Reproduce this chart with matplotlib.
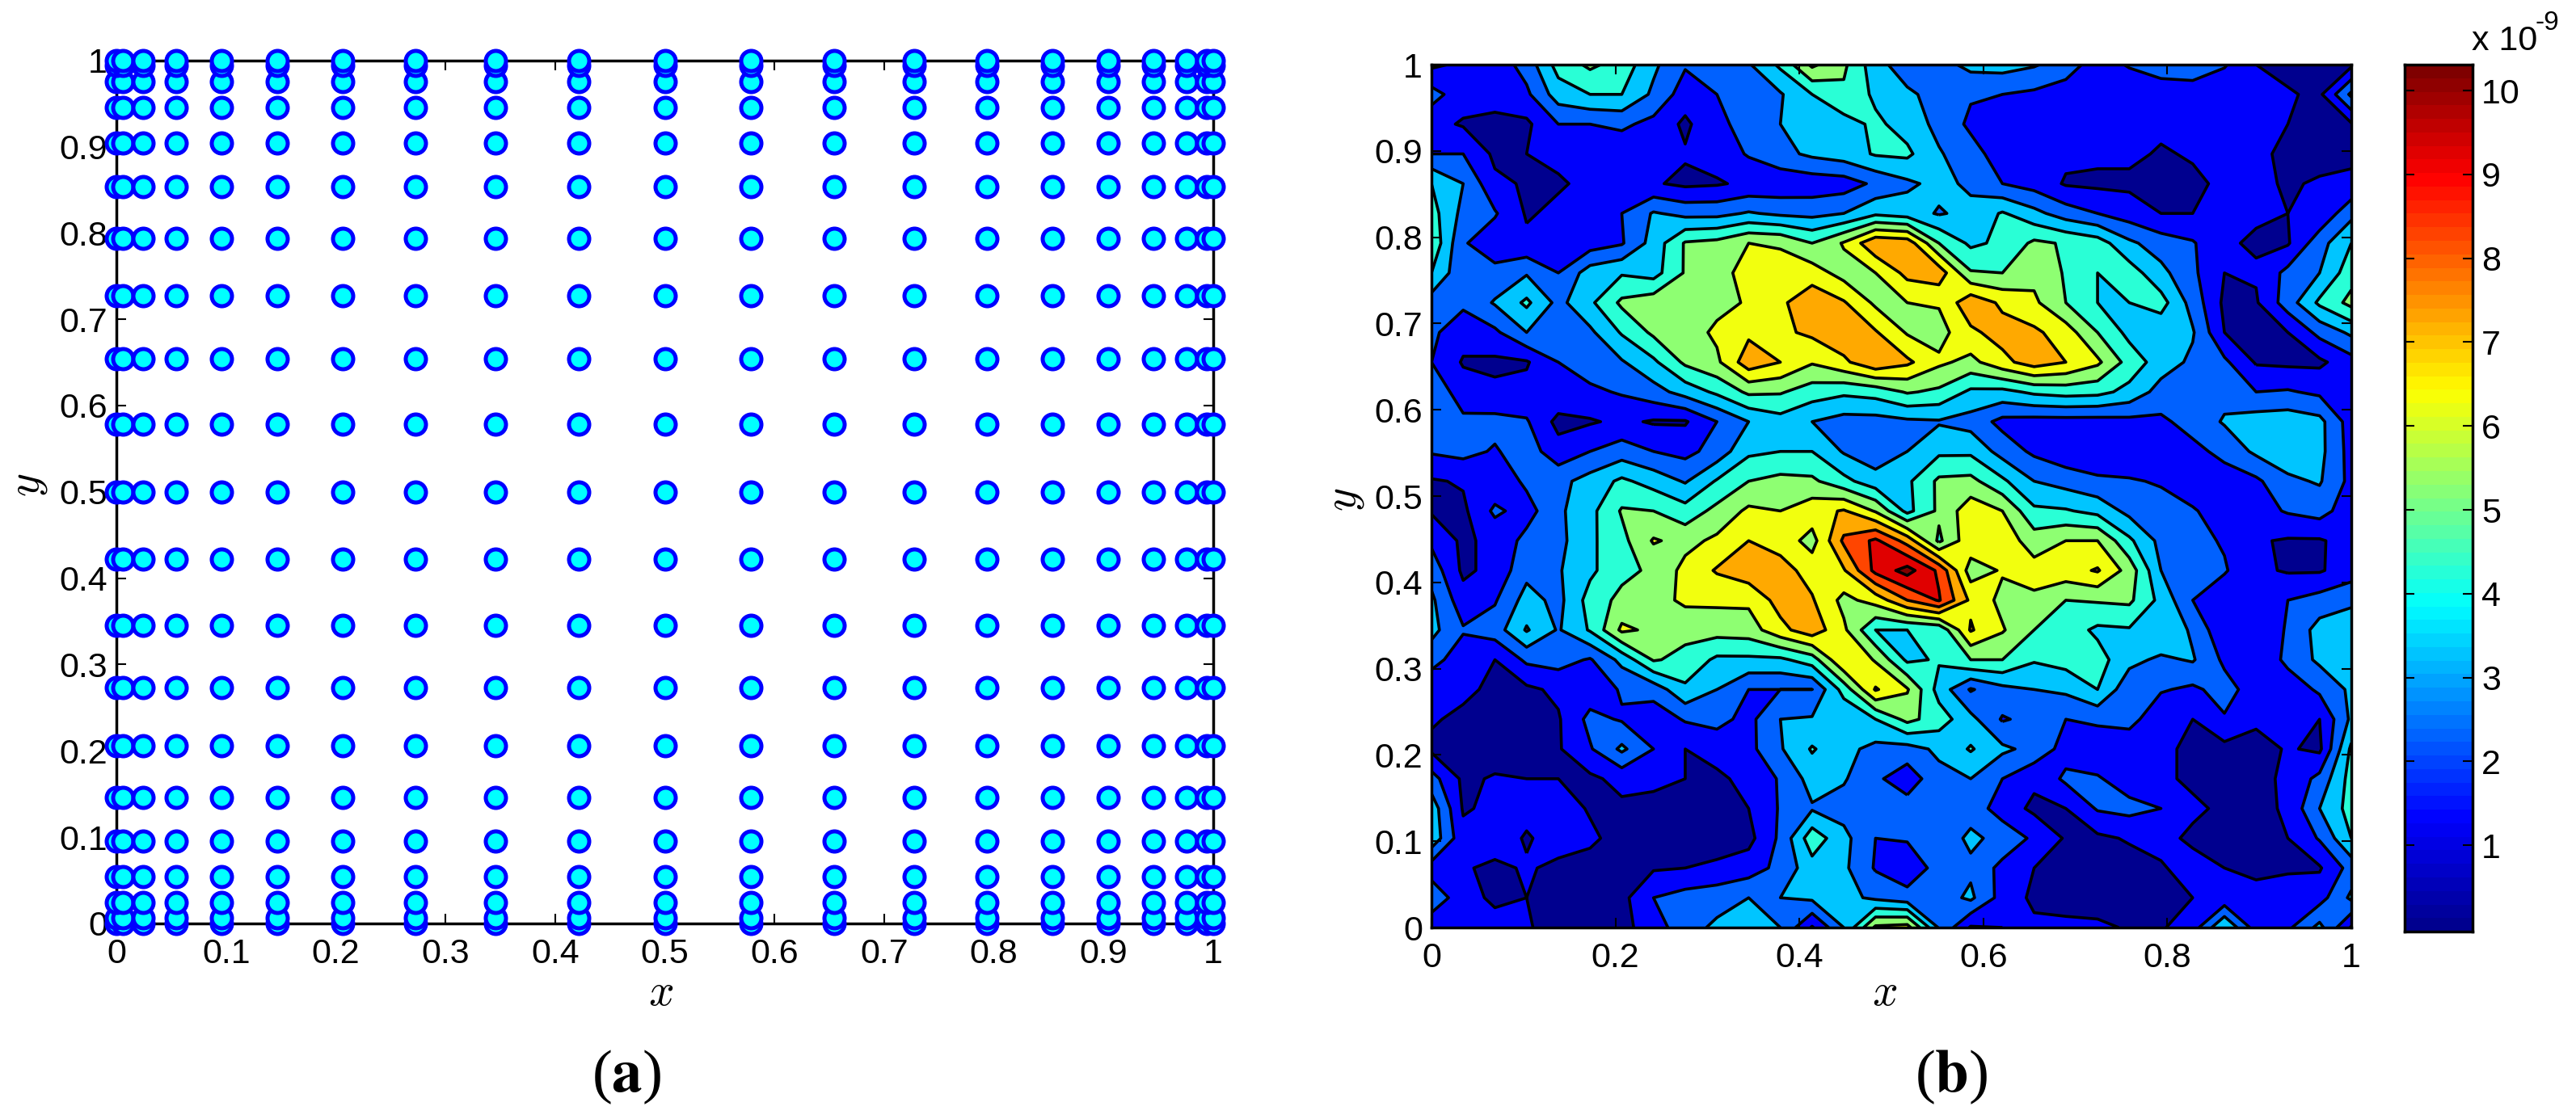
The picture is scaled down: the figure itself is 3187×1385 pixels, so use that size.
import numpy as np
import matplotlib
matplotlib.use('Agg')
import matplotlib.pyplot as plt
from matplotlib.colors import LinearSegmentedColormap

# Chebyshev-Lobatto collocation nodes
nodes = [0, 0.0062, 0.0245, 0.0545, 0.0955, 0.1464, 0.2061, 0.273, 0.3455, 0.4218, 0.5,
         0.5782, 0.6545, 0.727, 0.7939, 0.8536, 0.9045, 0.9455, 0.9755, 0.9938, 1]

x_ticks_a = [0, 0.1, 0.2, 0.3, 0.4, 0.5, 0.6, 0.7, 0.8, 0.9, 1]
x_ticks_b = [0, 0.2, 0.4, 0.6, 0.8, 1]
y_ticks = [0, 0.1, 0.2, 0.3, 0.4, 0.5, 0.6, 0.7, 0.8, 0.9, 1]
levels = [1, 2, 3, 4, 5, 6, 7, 8, 9, 10]
cbar_ticks = [1, 2, 3, 4, 5, 6, 7, 8, 9, 10]
cbar_min = -0.03
cbar_max = 10.31

# values estimated from panel (b), in units of 1e-10, rows from y=1 down to y=0
field_tenths = [
    [8,12,14,24,44,52,46,32,21,24,29,42,62,52,34,24,26,33,34,31,25,15,21,27,28,21,10,7,6,8],
    [24,14,13,18,35,40,40,28,15,20,24,29,40,48,38,32,26,21,20,18,15,13,12,12,13,12,12,11,8,32],
    [13,9,8,8,20,20,22,17,8,18,23,30,35,36,42,36,27,18,13,12,12,11,11,12,12,12,12,10,7,9],
    [20,20,8,10,12,13,13,14,11,14,21,27,32,35,41,42,31,24,15,12,12,12,12,9,11,13,12,8,7,8],
    [40,30,12,9,9,12,13,11,8,9,12,13,14,15,22,28,33,28,20,16,9,8,8,8,8,12,12,9,11,12],
    [44,27,21,9,12,15,20,31,27,27,31,28,27,30,38,35,29,33,41,33,25,20,15,10,10,12,11,10,12,27],
    [48,21,14,12,13,15,19,34,51,53,60,59,50,61,78,76,50,38,42,52,49,45,32,25,21,11,9,9,26,40],
    [40,22,23,29,20,35,39,36,51,58,62,64,65,56,60,73,76,51,50,57,49,40,45,33,22,10,11,23,30,46],
    [25,22,31,42,27,38,52,56,57,57,61,68,77,71,58,60,61,77,68,62,50,40,40,44,26,8,9,25,42,53],
    [22,14,18,30,27,28,41,52,55,62,68,68,72,77,71,59,56,68,74,72,65,50,37,33,31,10,8,10,23,32],
    [20,9,8,9,20,25,29,38,52,58,76,70,61,68,78,72,62,57,67,75,70,62,46,35,28,22,9,8,8,16],
    [27,15,12,13,18,18,21,26,34,42,52,51,45,42,44,51,48,38,37,42,44,43,37,26,24,27,20,21,18,13],
    [25,22,23,21,7,9,12,9,9,20,30,36,30,26,26,28,29,26,17,16,16,16,17,18,24,31,35,36,33,15],
    [21,23,19,25,14,20,25,20,17,24,38,40,40,29,24,30,38,38,26,18,13,12,12,12,17,23,32,36,33,16],
    [9,11,13,22,27,34,42,36,29,41,50,53,52,43,34,38,52,53,42,30,26,22,21,19,14,15,18,28,31,17],
    [9,8,22,16,28,37,51,50,44,53,62,60,66,71,59,37,52,66,60,42,41,37,27,24,21,15,16,21,24,14],
    [18,8,13,23,27,38,47,61,57,62,70,66,56,82,92,76,48,67,66,55,60,60,42,27,23,19,11,9,9,14],
    [26,8,13,27,29,38,47,52,63,71,76,74,66,69,93,104,88,55,61,64,66,71,56,30,26,21,12,9,9,15],
    [32,14,19,34,27,44,53,56,62,62,62,74,71,57,64,80,91,68,57,58,50,51,52,37,20,13,12,20,24,28],
    [33,21,25,41,29,41,62,58,53,54,55,67,76,62,40,40,42,71,61,50,45,38,39,40,28,12,13,21,34,36],
    [24,14,10,22,24,19,33,51,47,38,38,38,45,70,59,38,41,50,50,41,44,44,33,28,31,18,10,23,32,37],
    [12,12,8,8,12,14,21,24,38,30,20,20,20,44,71,61,36,19,27,30,32,40,23,21,18,24,15,13,22,32],
    [11,8,6,6,9,23,19,14,21,23,17,30,31,31,40,53,45,33,19,23,20,22,24,12,10,19,12,13,10,32],
    [8,5,5,6,9,19,32,20,10,14,17,29,41,33,27,26,32,41,32,27,16,13,12,12,8,7,6,11,8,42],
    [24,8,11,10,10,8,13,13,10,8,13,21,34,31,22,14,27,30,20,12,22,21,15,12,8,8,7,12,23,44],
    [36,9,12,13,15,9,8,6,6,7,10,21,29,26,22,25,26,26,15,8,10,21,23,20,12,8,6,12,30,44],
    [37,13,15,9,14,12,6,5,5,5,7,22,46,33,20,21,24,32,27,18,9,8,11,13,8,7,6,10,21,40],
    [15,11,8,11,8,6,6,9,10,12,15,23,36,32,19,13,24,28,17,10,7,6,6,9,14,10,8,9,9,24],
    [27,14,8,10,5,5,7,20,24,26,30,30,32,33,28,24,25,32,16,8,5,5,6,7,10,13,13,14,16,32],
    [13,12,14,11,6,5,7,15,26,32,39,30,9,30,62,64,29,9,10,12,13,12,9,9,15,40,15,18,33,9],
]

W, H = 3187, 1385
plt.rcParams['font.family'] = ['Liberation Sans', 'DejaVu Sans']
plt.rcParams['axes.linewidth'] = 2.5


def px_axes(fig, left, top, right, bottom):
    return fig.add_axes([left / W, 1 - bottom / H, (right - left) / W, (bottom - top) / H])


def fmt(v):
    return '%g' % v


def style_axes(ax, xt, yt):
    ax.set_xlim(0, 1)
    ax.set_ylim(0, 1)
    ax.set_xticks(xt)
    ax.set_yticks(yt)
    ax.set_xticklabels([fmt(v) for v in xt])
    ax.set_yticklabels([fmt(v) for v in yt])
    ax.tick_params(direction='in', top=True, right=True, length=8.5, width=1.5, labelsize=31)
    ax.tick_params(axis='x', pad=13)
    ax.tick_params(axis='y', pad=8)


fig = plt.figure(figsize=(W / 100, H / 100), dpi=100)

# matlab flavoured jet
jet = LinearSegmentedColormap.from_list(
    'mjet',
    [(0, (0, 0, 0.5625)), (0.125, (0, 0, 1)), (0.375, (0, 1, 1)),
     (0.625, (1, 1, 0)), (0.875, (1, 0, 0)), (1, (0.5, 0, 0))], N=256)
jet64 = jet.resampled(64)

# panel a
ax1 = px_axes(fig, 144, 74.5, 1501, 1143)
xx, yy = np.meshgrid(nodes, nodes)
ax1.plot(xx.ravel(), yy.ravel(), 'o', ms=18, mfc='#00ffff', mec='#0000ff', mew=3.6,
         clip_on=False, zorder=5)
style_axes(ax1, x_ticks_a, y_ticks)

# panel b
ax2 = px_axes(fig, 1771, 80, 2909, 1148)
field = np.array(field_tenths)[::-1] / 10.0
gx = np.arange(30) / 29.0
gy = np.arange(30) / 29.0
bounds = [-1] + levels + [11]
fill_colors = [jet(0.0)] + [jet((k + 0.28) / 10.28) for k in levels]
ax2.contourf(gx, gy, field, levels=bounds, colors=fill_colors)
ax2.contour(gx, gy, field, levels=levels, colors='k', linewidths=2.6, linestyles='solid')
style_axes(ax2, x_ticks_b, y_ticks)

# colorbar
cax = px_axes(fig, 2975, 80, 3059, 1153)
grad = np.linspace(0, 1, 64).reshape(-1, 1)
cax.imshow(grad, cmap=jet64, origin='lower', aspect='auto', extent=[0, 1, cbar_min, cbar_max],
           interpolation='nearest')
cax.set_xticks([])
cax.set_yticks(cbar_ticks)
cax.set_yticklabels([fmt(v) for v in cbar_ticks])
cax.yaxis.tick_right()
cax.tick_params(axis='y', direction='in', left=True, right=True, length=8.5, width=1.5,
                labelsize=31, pad=8)
fig.text(3058 / W, 1 - 62 / H, 'x 10', fontsize=31, ha='left', va='baseline')
fig.text(3137 / W, 1 - 37 / H, '-9', fontsize=24, ha='left', va='baseline')

# axis labels and panel letters
for cx, cy, label, rot in [(818, 1230, '$x$', 0), (2332, 1230, '$x$', 0),
                           (35, 600, '$y$', 90), (1664, 618, '$y$', 90)]:
    fig.text(cx / W, 1 - cy / H, label, fontsize=40, ha='center', va='center', rotation=rot,
             math_fontfamily='cm')
for cx, label in [(775, r'($\mathbf{a}$)'), (2414, r'($\mathbf{b}$)')]:
    fig.text(cx / W, 1 - 1333 / H, label, fontsize=54, ha='center', va='center',
             family='Liberation Serif', math_fontfamily='stix')

fig.savefig('out.png', dpi=100)
